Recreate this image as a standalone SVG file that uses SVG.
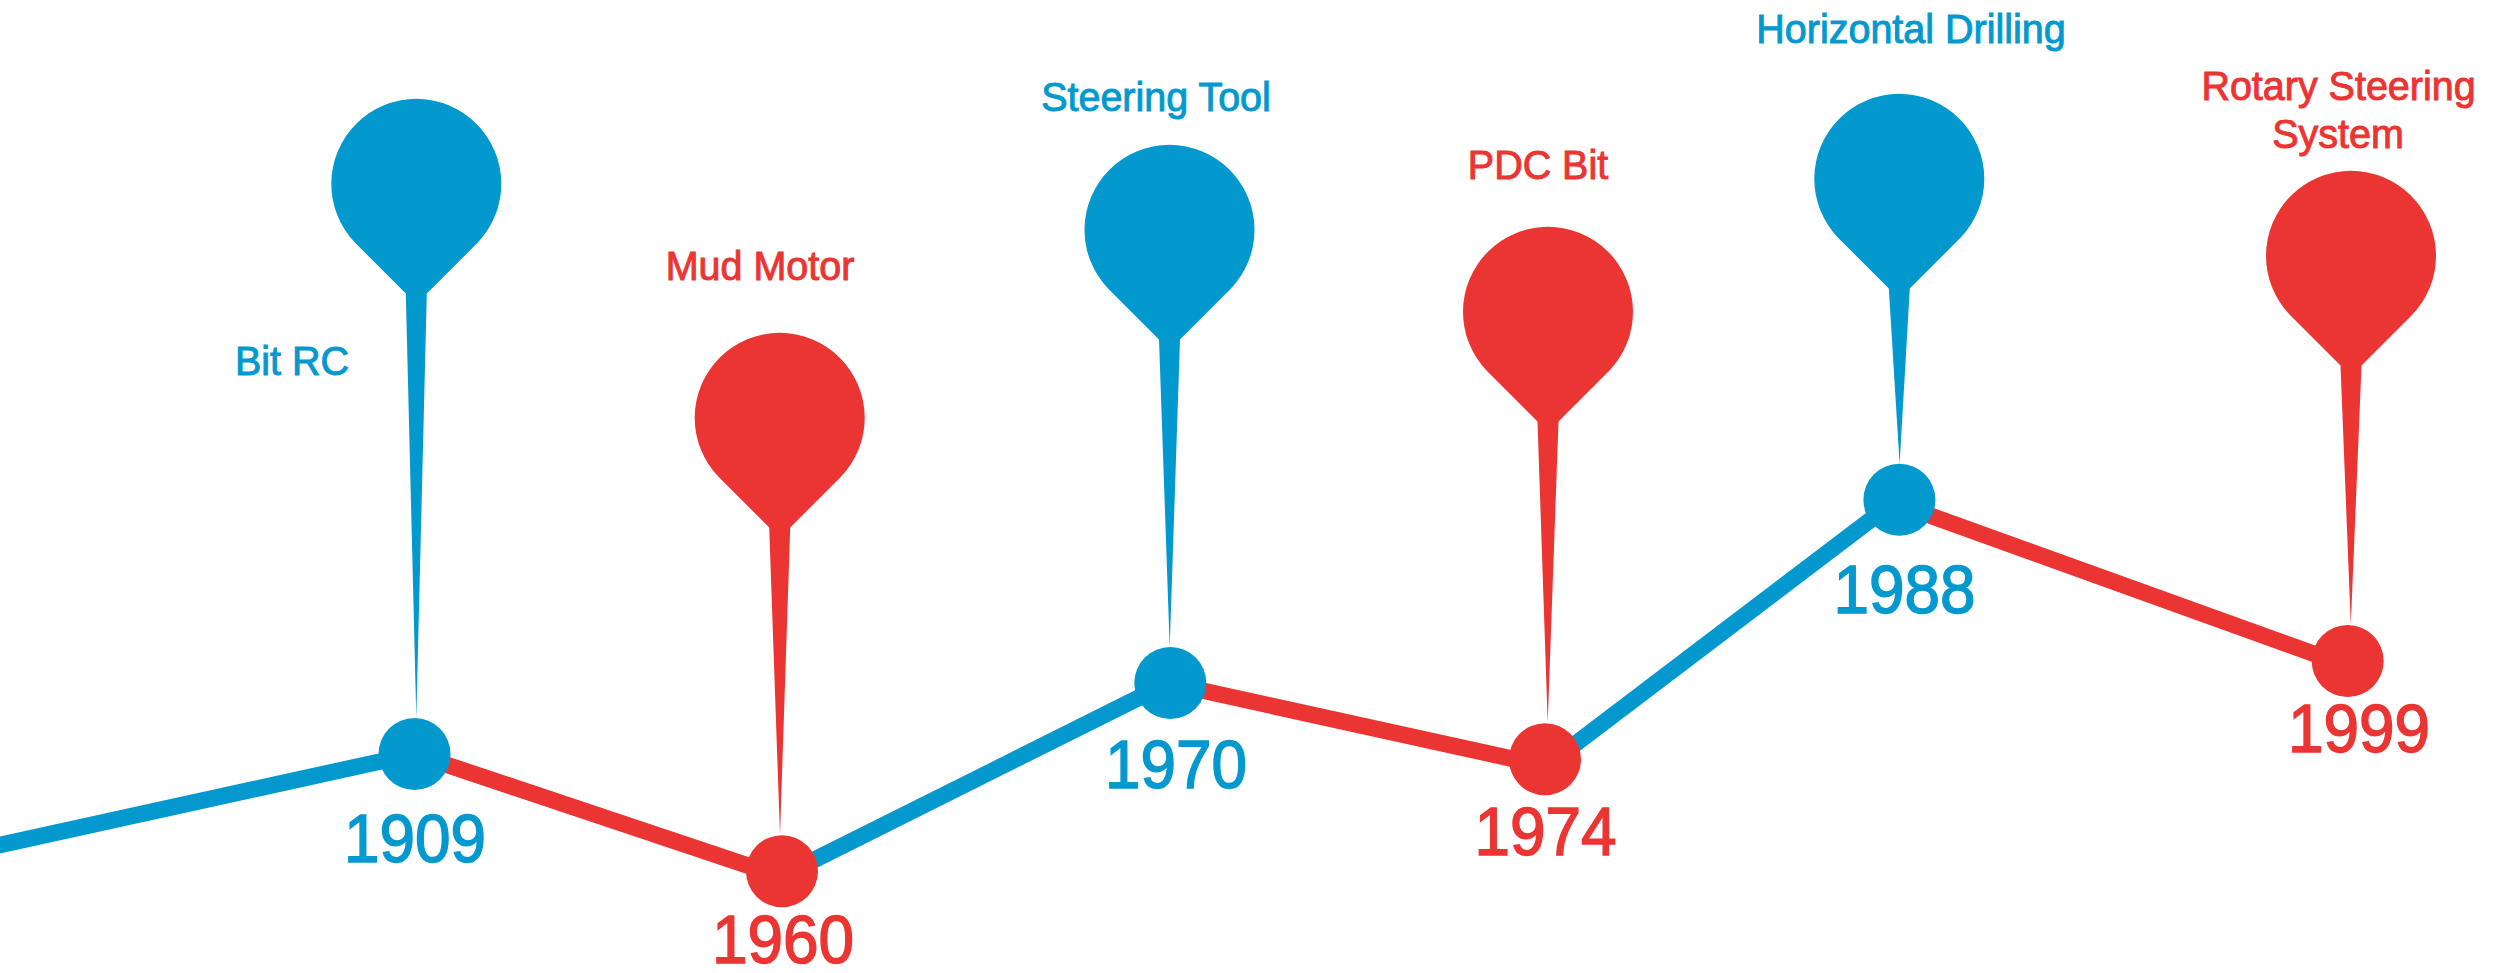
<svg xmlns="http://www.w3.org/2000/svg" width="2496" height="973" viewBox="0 0 2496 973">
<style>
.b{fill:#0399cf;stroke:none}.r{fill:#eb3533;stroke:none}
.lb{stroke:#0399cf}.lr{stroke:#eb3533}
#connectors line{stroke-width:16.500;fill:none}
text{font-family:"Liberation Sans",Arial,sans-serif;text-anchor:middle}
.b text{stroke:#0399cf}.r text{stroke:#eb3533}
.y{font-size:68px;stroke-width:1.500}.t{font-size:41px;stroke-width:1}
</style>
<rect width="2496" height="973" fill="#fff"/>
<g id="connectors">
<line class="lb" x1="-10" y1="847.200" x2="414.500" y2="754"/>
<line class="lr" x1="414.500" y1="754" x2="782" y2="877"/>
<line class="lb" x1="782" y1="876" x2="1170.300" y2="682"/>
<line class="lr" x1="1170.300" y1="683.500" x2="1545" y2="766"/>
<line class="lb" x1="1545" y1="767" x2="1899.400" y2="498"/>
<line class="lr" x1="1899.400" y1="504.500" x2="2347.700" y2="666"/>
</g>
<g id="n1909" class="b"><path d="M355.300 243a85 85 0 1 1 122 0L426.800 293.500L416.300 718L405.800 293.500Z"/><circle cx="414.500" cy="754" r="36"/><text class="y" transform="matrix(.94 0 0 1 415 862)">1909</text><text class="t" transform="matrix(.963 0 0 1 292 375)">Bit RC</text></g>
<g id="n1960" class="r"><path d="M718.700 477a85 85 0 1 1 122 0L790.200 527.500L780 835L769.200 527.500Z"/><circle cx="782" cy="871.300" r="36"/><text class="y" transform="matrix(.94 0 0 1 783 962.500)">1960</text><text class="t" transform="matrix(.963 0 0 1 760 280)">Mud Motor</text></g>
<g id="n1970" class="b"><path d="M1108.500 289a85 85 0 1 1 122 0L1180 339.500L1169.700 647L1159 339.500Z"/><circle cx="1170.300" cy="683" r="36"/><text class="y" transform="matrix(.94 0 0 1 1176 787.500)">1970</text><text class="t" transform="matrix(.963 0 0 1 1156 110.500)">Steering Tool</text></g>
<g id="n1974" class="r"><path d="M1487 371a85 85 0 1 1 122 0L1558.500 421.500L1547.700 723L1537.500 421.500Z"/><circle cx="1545" cy="759.300" r="36"/><text class="y" transform="matrix(.94 0 0 1 1545.500 855)">1974</text><text class="t" transform="matrix(.963 0 0 1 1538 179)">PDC Bit</text></g>
<g id="n1988" class="b"><path d="M1838.300 238a85 85 0 1 1 122 0L1909.800 288.500L1899.600 464L1888.800 288.500Z"/><circle cx="1899.400" cy="499.700" r="36"/><text class="y" transform="matrix(.94 0 0 1 1904.500 613)">1988</text><text class="t" transform="matrix(.963 0 0 1 1911 43)">Horizontal Drilling</text></g>
<g id="n1999" class="r"><path d="M2290 315a85 85 0 1 1 122 0L2361.500 365.500L2350.800 625L2340.500 365.500Z"/><circle cx="2347.700" cy="661" r="36"/><text class="y" transform="matrix(.94 0 0 1 2359 752)">1999</text><text class="t" transform="matrix(.963 0 0 1 2338.500 100)">Rotary Steering</text><text class="t" transform="matrix(.963 0 0 1 2338 148)">System</text></g>
</svg>
